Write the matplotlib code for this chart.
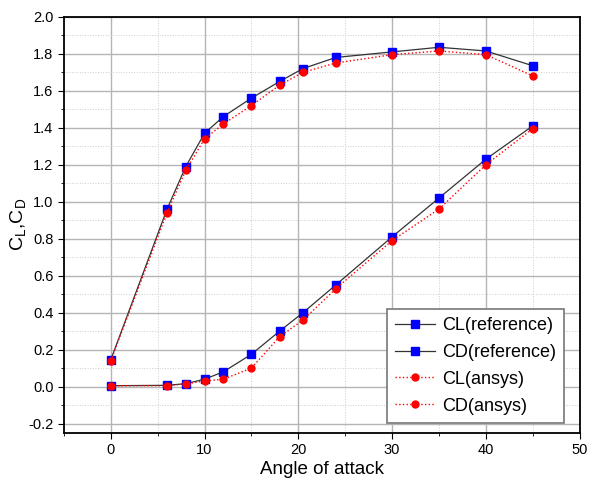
import numpy as np
import matplotlib.pyplot as plt
from matplotlib.ticker import MultipleLocator

plt.rcParams['font.family'] = ['Liberation Sans', 'DejaVu Sans']
plt.rcParams['mathtext.default'] = 'regular'

# angle of attack
alpha = [0, 6, 8, 10, 12, 15, 18, 20.5, 24, 30, 35, 40, 45]

cl_ref = [0.145, 0.96, 1.19, 1.37, 1.46, 1.56, 1.65, 1.72, 1.78, 1.81, 1.835, 1.815, 1.735]
cd_ref = [0.005, 0.007, 0.016, 0.04, 0.08, 0.175, 0.30, 0.40, 0.55, 0.81, 1.02, 1.23, 1.41]
cl_ans = [0.14, 0.94, 1.17, 1.34, 1.42, 1.52, 1.63, 1.70, 1.75, 1.795, 1.815, 1.795, 1.68]
cd_ans = [0.005, 0.005, 0.015, 0.03, 0.04, 0.10, 0.27, 0.36, 0.53, 0.79, 0.96, 1.20, 1.395]

fig = plt.figure(figsize=(5.97, 4.93), dpi=100)
ax = fig.add_axes([0.107, 0.122, 0.864, 0.844])

ax.plot(alpha, cl_ref, '-', color='#333333', lw=0.9, marker='s', ms=6,
        mfc='blue', mec='blue', label='CL(reference)')
ax.plot(alpha, cd_ref, '-', color='#333333', lw=0.9, marker='s', ms=6,
        mfc='blue', mec='blue', label='CD(reference)')
ax.plot(alpha, cl_ans, ':', color='red', lw=1.0, marker='o', ms=5,
        mfc='red', mec='red', label='CL(ansys)')
ax.plot(alpha, cd_ans, ':', color='red', lw=1.0, marker='o', ms=5,
        mfc='red', mec='red', label='CD(ansys)')

ax.set_xlim(-5, 50)
ax.set_ylim(-0.25, 2.0)
ax.xaxis.set_major_locator(MultipleLocator(10))
ax.xaxis.set_minor_locator(MultipleLocator(5))
ax.yaxis.set_major_locator(MultipleLocator(0.2))
ax.yaxis.set_minor_locator(MultipleLocator(0.1))
ax.yaxis.set_major_formatter(plt.FormatStrFormatter('%.1f'))

ax.grid(which='major', color='#b5b5b5', lw=1.0)
ax.grid(which='minor', color='#cccccc', lw=0.7, ls=':')
ax.tick_params(which='both', direction='out', labelsize=10.5)
ax.tick_params(which='major', length=4)
ax.tick_params(which='minor', length=2.5)
for s in ax.spines.values():
    s.set_linewidth(1.3)

ax.set_xlabel('Angle of attack', fontsize=13.5, labelpad=3)
ax.set_ylabel(r'C$_L$,C$_D$', fontsize=14, labelpad=0)

leg = ax.legend(loc='lower right', bbox_to_anchor=(0.97, 0.024), borderaxespad=0,
                fontsize=13, fancybox=False, framealpha=1, edgecolor='#777777',
                handlelength=2.2, labelspacing=0.55, borderpad=0.45, handletextpad=0.4)
leg.get_frame().set_linewidth(1.2)

plt.savefig('out.png', dpi=100)
